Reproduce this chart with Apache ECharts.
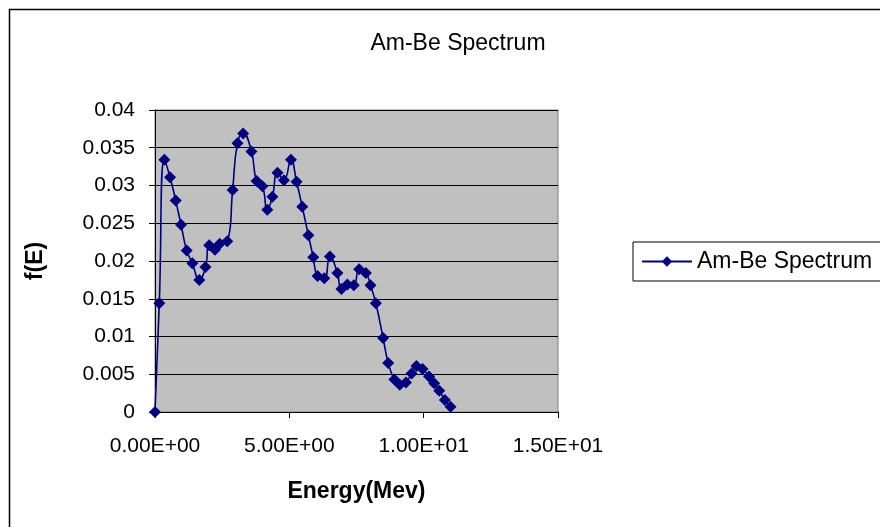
<!DOCTYPE html>
<html>
<head>
<meta charset="utf-8">
<script src="https://cdn.jsdelivr.net/npm/echarts@6/dist/echarts.min.js"></script>
<style>
  html, body { margin: 0; padding: 0; background: #fff; }
  #main { width: 880px; height: 527px; }
</style>
</head>
<body>
<div id="main"></div>
<script>
// Am-Be neutron spectrum
var energy = [0, 0.16, 0.35, 0.56, 0.77, 0.97, 1.18, 1.39, 1.65, 1.88, 2.02, 2.23, 2.41, 2.69,
	2.89, 3.07, 3.28, 3.59, 3.78, 4.00, 4.18, 4.37, 4.56, 4.80, 5.06, 5.27, 5.48, 5.71, 5.89,
	6.05, 6.30, 6.51, 6.79, 6.94, 7.16, 7.40, 7.60, 7.85, 8.02, 8.22, 8.49, 8.68, 8.91, 9.11,
	9.34, 9.55, 9.73, 9.96, 10.20, 10.39, 10.58, 10.79, 11.00];
var fE = [0, 0.0144, 0.0334, 0.0311, 0.0280, 0.0248, 0.0214, 0.0197, 0.0175, 0.0192, 0.0221,
	0.0215, 0.0223, 0.0226, 0.0294, 0.0356, 0.0369, 0.0345, 0.0306, 0.0299, 0.0268, 0.0285,
	0.0317, 0.0307, 0.0334, 0.0305, 0.0272, 0.0234, 0.0205, 0.0180, 0.0177, 0.0206, 0.0184,
	0.0163, 0.0169, 0.0168, 0.0189, 0.0184, 0.0168, 0.0144, 0.0098, 0.0065, 0.0043, 0.0036,
	0.0039, 0.0051, 0.0061, 0.0057, 0.0047, 0.0038, 0.0028, 0.0016, 0.0007];
var seriesName = 'Am-Be Spectrum';

var points = [];
for (var i = 0; i < energy.length; i++) {
	points.push([energy[i], fE[i]]);
}

// excel style exponent: 1.00E+01
function sci(v) {
	var s = v.toExponential(2).toUpperCase();
	return s.replace(/E([+-])(\d)$/, 'E$10$2');
}

var font = 'Liberation Sans, Arial, sans-serif';
var myChart = echarts.init(document.getElementById('main'));

var option = {
	animation: false,
	graphic: [{
		type: 'rect',
		shape: { x: 9.5, y: 9.5, width: 950, height: 600 },
		style: { fill: 'none', stroke: '#000', lineWidth: 1.5 }
	}],
	title: {
		text: seriesName,
		left: 453,
		top: 27,
		textAlign: 'center',
		textStyle: { fontFamily: font, fontSize: 23, fontWeight: 'normal', color: '#000' }
	},
	legend: {
		data: [seriesName],
		left: 633,
		top: 242,
		orient: 'vertical',
		padding: [8, 40, 8, 8],
		itemWidth: 50,
		itemHeight: 13,
		borderColor: '#000',
		borderWidth: 1,
		backgroundColor: '#fff',
		textStyle: { fontFamily: font, fontSize: 23, color: '#000' }
	},
	grid: {
		left: 155, right: 322, top: 110, bottom: 115,
		show: true,
		backgroundColor: '#C0C0C0',
		borderColor: '#808080',
		borderWidth: 1
	},
	xAxis: {
		type: 'value',
		min: 0, max: 15, interval: 5,
		name: 'Energy(Mev)',
		nameLocation: 'middle',
		nameGap: 68,
		nameTextStyle: { fontFamily: font, fontSize: 23, fontWeight: 'bold', color: '#000' },
		axisLine: { show: true, onZero: false, lineStyle: { color: '#000', width: 1 } },
		axisTick: { show: true, inside: false, length: 6, lineStyle: { color: '#000' } },
		axisLabel: { formatter: sci, margin: 24, fontFamily: font, fontSize: 21, color: '#000' },
		splitLine: { show: false }
	},
	yAxis: {
		type: 'value',
		min: 0, max: 0.04, interval: 0.005,
		name: 'f(E)',
		nameLocation: 'middle',
		nameRotate: 90,
		nameGap: 108,
		nameTextStyle: { fontFamily: font, fontSize: 23, fontWeight: 'bold', color: '#000' },
		axisLine: { show: true, lineStyle: { color: '#000', width: 1 } },
		axisTick: { show: true, inside: false, length: 6, lineStyle: { color: '#000' } },
		axisLabel: { margin: 20, fontFamily: font, fontSize: 21, color: '#000' },
		splitLine: { show: true, lineStyle: { color: '#000', width: 1 } }
	},
	series: [{
		name: seriesName,
		type: 'line',
		data: points,
		smooth: 0.5,
		symbol: 'diamond',
		symbolSize: 12,
		itemStyle: { color: '#000080' },
		lineStyle: { color: '#000080', width: 1.6 }
	}]
};
myChart.setOption(option);
</script>
</body>
</html>
